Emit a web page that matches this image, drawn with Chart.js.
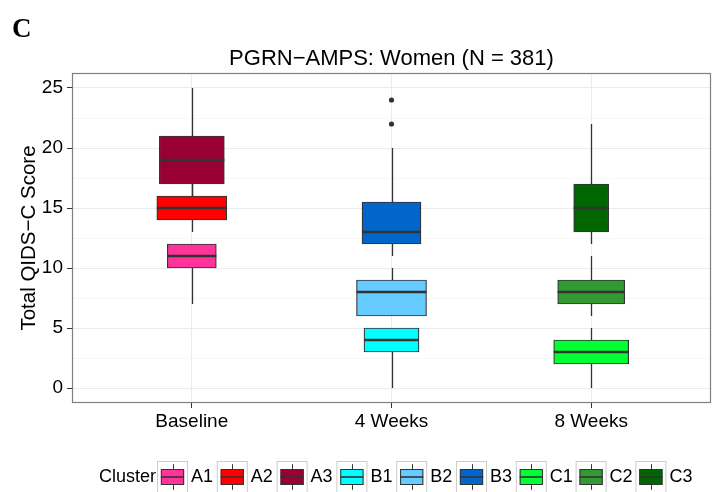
<!DOCTYPE html>
<html>
<head>
<meta charset="utf-8">
<script src="https://cdn.jsdelivr.net/npm/chart.js@4.4.1/dist/chart.umd.min.js"></script>
<style>
  html, body { margin: 0; padding: 0; background: #ffffff; }
  #wrap { width: 715px; height: 492px; }
</style>
</head>
<body>
<div id="wrap"><canvas id="chart" width="715" height="492"></canvas></div>
<script>
// Time points on the x axis
const categories = ['Baseline', '4 Weeks', '8 Weeks'];

// Trajectory clusters and the time point each one belongs to (index into categories)
const clusters = ['A1', 'A2', 'A3', 'B1', 'B2', 'B3', 'C1', 'C2', 'C3'];
const clusterTime = [0, 0, 0, 1, 1, 1, 2, 2, 2];

// Box-plot statistics of the total QIDS-C score per cluster
const whiskerLow  = [7, 13, 16, 0, 6, 11, 0, 6, 12];
const q1          = [10, 14, 17, 3, 6, 12, 2, 7, 13];
const medians     = [11, 15, 19, 4, 8, 13, 3, 8, 15];
const q3          = [12, 16, 21, 5, 9, 15.5, 4, 9, 17];
const whiskerHigh = [12, 17, 25, 5, 10, 20, 5, 11, 22];

// Outlying scores (cluster B3 at 4 weeks)
const outlierTime   = [1, 1];
const outlierValues = [24, 22];

// Axis ticks
const yTicks = [0, 5, 10, 15, 20, 25];
const yMinorTicks = [2.5, 7.5, 12.5, 17.5, 22.5];

// Styling
const fills = ['#FF3399', '#FF0000', '#990033', '#00FFFF', '#66CCFF', '#0066CC', '#00FF33', '#339933', '#006600'];
const boxPx = [49, 70, 65, 55, 70, 59, 75, 67, 35];   // variable box widths
const FONT = "'Liberation Sans', Arial, Helvetica, sans-serif";
const INK = '#333333';

const boxDatasets = clusters.map((name, i) => ({
  type: 'bar',
  label: name,
  data: [{ x: clusterTime[i] + 1, y: [q1[i], q3[i]] }],
  backgroundColor: fills[i],
  borderColor: INK,
  borderWidth: 1.2,
  borderSkipped: false,
  barThickness: boxPx[i],
  grouped: false,
  order: 2
}));

const outlierDataset = {
  type: 'scatter',
  label: 'outliers',
  data: outlierValues.map((v, k) => ({ x: outlierTime[k] + 1, y: v })),
  pointRadius: 2.6,
  pointBackgroundColor: INK,
  pointBorderWidth: 0,
  order: 1
};

// Whiskers, medians, panel frame, legend and panel letter
const boxplotParts = {
  id: 'boxplotParts',
  beforeDatasetsDraw(chart) {
    const { ctx, scales: { x, y } } = chart;
    ctx.save();
    ctx.strokeStyle = INK;
    ctx.lineWidth = 1.3;
    clusters.forEach((_, i) => {
      const px = Math.round(x.getPixelForValue(clusterTime[i] + 1)) + 0.5;
      ctx.beginPath();
      ctx.moveTo(px, y.getPixelForValue(whiskerLow[i]));
      ctx.lineTo(px, y.getPixelForValue(q1[i]));
      ctx.moveTo(px, y.getPixelForValue(q3[i]));
      ctx.lineTo(px, y.getPixelForValue(whiskerHigh[i]));
      ctx.stroke();
    });
    ctx.restore();
  },
  afterDatasetsDraw(chart) {
    const { ctx, chartArea: a, scales: { y } } = chart;
    ctx.save();
    ctx.strokeStyle = INK;
    ctx.lineWidth = 2.4;
    clusters.forEach((_, i) => {
      const bar = chart.getDatasetMeta(i).data[0];
      const py = y.getPixelForValue(medians[i]);
      ctx.beginPath();
      ctx.moveTo(bar.x - bar.width / 2, py);
      ctx.lineTo(bar.x + bar.width / 2, py);
      ctx.stroke();
    });
    // panel frame
    ctx.strokeStyle = '#7F7F7F';
    ctx.lineWidth = 1.2;
    ctx.strokeRect(a.left + 0.5, a.top + 0.5, a.right - a.left - 1, a.bottom - a.top - 1);
    ctx.restore();
  },
  afterDraw(chart) {
    const { ctx } = chart;
    ctx.save();
    // panel letter
    ctx.fillStyle = '#000';
    ctx.font = "bold 27px 'Liberation Serif', 'Times New Roman', serif";
    ctx.textBaseline = 'alphabetic';
    ctx.textAlign = 'left';
    ctx.fillText('C', 12, 37);

    // legend
    const cy = 477, keyW = 31, keyH = 32, pitch = 59.8, start = 157;
    ctx.font = '18px ' + FONT;
    ctx.textBaseline = 'middle';
    ctx.fillStyle = '#000';
    ctx.fillText('Cluster', 99, cy);
    clusters.forEach((name, i) => {
      const kx = start + i * pitch;
      const ky = cy - keyH / 2;
      ctx.fillStyle = '#FFFFFF';
      ctx.fillRect(kx, ky, keyW, keyH);
      ctx.strokeStyle = '#CCCCCC';
      ctx.lineWidth = 1;
      ctx.strokeRect(kx + 0.5, ky + 0.5, keyW - 1, keyH - 1);
      const mx = Math.round(kx + keyW / 2) + 0.5;
      ctx.strokeStyle = INK;
      ctx.lineWidth = 1;
      ctx.beginPath();
      ctx.moveTo(mx, ky + keyH * 0.1);
      ctx.lineTo(mx, ky + keyH * 0.9);
      ctx.stroke();
      const bw = keyW * 0.75, bh = keyH * 0.5;
      ctx.fillStyle = fills[i];
      ctx.fillRect(kx + (keyW - bw) / 2, cy - bh / 2, bw, bh);
      ctx.strokeRect(kx + (keyW - bw) / 2 + 0.5, cy - bh / 2 + 0.5, bw - 1, bh - 1);
      ctx.lineWidth = 1.6;
      ctx.beginPath();
      ctx.moveTo(kx + (keyW - bw) / 2, cy);
      ctx.lineTo(kx + (keyW + bw) / 2, cy);
      ctx.stroke();
      ctx.fillStyle = '#000';
      ctx.fillText(name, kx + keyW + 3, cy);
    });
    ctx.restore();
  }
};

const isMajor = v => yTicks.includes(v);

new Chart(document.getElementById('chart'), {
  type: 'bar',
  data: { datasets: [...boxDatasets, outlierDataset] },
  options: {
    responsive: false,
    animation: false,
    events: [],
    layout: { padding: { left: 0, right: 2, top: 40, bottom: 54 } },
    plugins: {
      legend: { display: false },
      tooltip: { enabled: false },
      title: {
        display: true,
        fullSize: false,
        text: 'PGRN\u2212AMPS: Women (N = 381)',
        color: '#000',
        font: { family: FONT, size: 22, weight: 'normal' },
        padding: { top: 5.3, bottom: 1.3 }
      }
    },
    scales: {
      x: {
        type: 'linear',
        min: 0.4,
        max: 3.6,
        offset: false,
        afterBuildTicks: s => { s.ticks = categories.map((_, k) => ({ value: k + 1 })); },
        afterFit: s => { s.height = 35; },
        ticks: {
          autoSkip: false,
          maxRotation: 0,
          color: '#000',
          font: { family: FONT, size: 19 },
          padding: 2,
          callback: v => categories[v - 1]
        },
        grid: { offset: false, color: '#EBEBEB', lineWidth: 1, tickColor: INK, tickLength: 5 },
        border: { display: false }
      },
      y: {
        min: -1.25,
        max: 26.25,
        afterBuildTicks: s => {
          s.ticks = [...yTicks, ...yMinorTicks].sort((a, b) => a - b).map(v => ({ value: v }));
        },
        afterFit: s => { s.width = 72; },
        ticks: {
          autoSkip: false,
          color: '#000',
          font: { family: FONT, size: 19 },
          padding: 4,
          callback: v => (isMajor(v) ? String(v) : '')
        },
        grid: {
          color: c => (isMajor(c.tick.value) ? '#EBEBEB' : '#F5F5F5'),
          lineWidth: c => (isMajor(c.tick.value) ? 1 : 0.8),
          tickColor: c => (isMajor(c.tick.value) ? INK : 'rgba(0,0,0,0)'),
          tickLength: 5
        },
        border: { display: false },
        title: {
          display: true,
          text: 'Total QIDS\u2212C Score',
          color: '#000',
          font: { family: FONT, size: 20.5 },
          padding: { top: 17, bottom: 0 }
        }
      }
    }
  },
  plugins: [boxplotParts]
});
</script>
</body>
</html>
